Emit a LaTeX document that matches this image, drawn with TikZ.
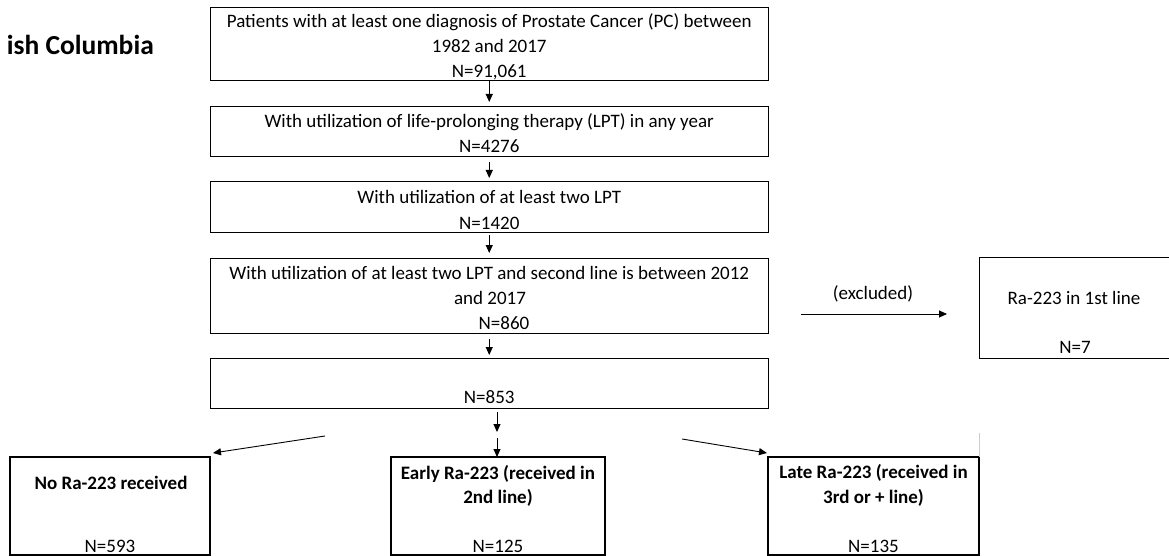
\documentclass[tikz,border=0pt]{standalone}
\usepackage{fontspec}
\setmainfont{Carlito}
\usetikzlibrary{arrows.meta}
\newcommand{\fs}{\fontsize{19}{23}\selectfont}
\tikzset{
  box/.style={draw, line width=1pt, inner sep=0pt, outer sep=0pt, anchor=north west},
  bbox/.style={box, line width=2pt},
  txt/.style={inner sep=0pt, anchor=base, font=\fs},
  btxt/.style={txt, font=\fs\bfseries},
  arr/.style={-{Triangle[length=8pt,width=7pt]}, line width=0.9pt},
}
\begin{document}
\begin{tikzpicture}[x=1pt,y=-1pt]
\useasboundingbox (0,0) rectangle (1169,556);
% title
\node[inner sep=0pt, anchor=base east, font=\fontsize{27.5}{30}\selectfont\bfseries] (title) at (154,55) {ish Columbia};
% boxes
\node[box, minimum width=557.5pt, minimum height=73pt] (b1) at (210.5,8) {};
\node[box, minimum width=557.5pt, minimum height=50pt] (b2) at (210.5,107) {};
\node[box, minimum width=557.5pt, minimum height=50pt] (b3) at (210.5,182) {};
\node[box, minimum width=557.5pt, minimum height=75pt] (b4) at (210.5,258) {};
\node[box, minimum width=557.5pt, minimum height=50pt] (b5) at (210.5,358) {};
\node[box, minimum width=200pt, minimum height=101pt] (ex) at (979,257) {};
\node[bbox, minimum width=200pt, minimum height=98pt] (nora) at (10,457) {};
\node[bbox, minimum width=214pt, minimum height=98pt] (early) at (391,457) {};
\node[bbox, minimum width=211pt, minimum height=98pt] (late) at (768,457) {};
% texts
\node[txt] (t1a) at (489.25,28) {Patients with at least one diagnosis of Prostate Cancer (PC) between};
\node[txt] (t1b) at (489.25,53) {1982 and 2017};
\node[txt] (t1c) at (489.25,78) {N=91,061};
\node[txt] (t2a) at (489.25,128) {With utilization of life-prolonging therapy (LPT) in any year};
\node[txt] (t2b) at (489.25,153) {N=4276};
\node[txt] (t3a) at (489.25,204) {With utilization of at least two LPT};
\node[txt] (t3b) at (489.25,229) {N=1420};
\node[txt] (t4a) at (489.25,279) {With utilization of at least two LPT and second line is between 2012};
\node[txt] (t4b) at (490,304.5) {and 2017};
\node[txt] (t4c) at (504,329) {N=860};
\node[txt] (t5) at (489.25,403.5) {N=853};
\node[txt] (exa) at (1074,304) {Ra-223 in 1st line};
\node[txt] (exb) at (1075,353) {N=7};
\node[txt] (exl) at (873,299) {(excluded)};
\node[btxt] (n1) at (111,489) {No Ra-223 received};
\node[txt] (n2) at (110,552.5) {N=593};
\node[btxt] (e1) at (498,479) {Early Ra-223 (received in};
\node[btxt] (e2) at (498,503) {2nd line)};
\node[txt] (e3) at (498,552.5) {N=125};
\node[btxt] (l1) at (873.5,478) {Late Ra-223 (received in};
\node[btxt] (l2) at (873.5,503) {3rd or + line)};
\node[txt] (l3) at (873.5,552) {N=135};
% connectors
\draw[arr, shorten >=5pt] (b1.south -| t1c) -- (b2.north -| t1c);
\draw[arr, shorten <=5pt, shorten >=4pt] (b2.south -| t1c) -- (b3.north -| t1c);
\draw[arr, shorten <=3pt, shorten >=5pt] (b3.south -| t1c) -- (b4.north -| t1c);
\draw[arr, shorten <=6pt, shorten >=3pt] (b4.south -| t1c) -- (b5.north -| t1c);
\coordinate (m1) at (497,435);
\draw[arr, shorten <=4pt, shorten >=3pt] (b5.south -| m1) -- (m1);
\draw[arr, shorten <=3pt] (m1) -- (early.north -| m1);
\coordinate (dl) at (325,436);
\coordinate (dlt) at (213,453);
\draw[arr] (dl) -- (dlt);
\coordinate (dr) at (682,439);
\coordinate (drt) at (767,453);
\draw[arr] (dr) -- (drt);
\coordinate (exs) at (801,314);
\draw[arr, shorten >=32pt] (exs) -- (exs -| ex.west);
\draw[black!20, line width=0.8pt] (late.north east) -- ++(0,-24);
\end{tikzpicture}
\end{document}
